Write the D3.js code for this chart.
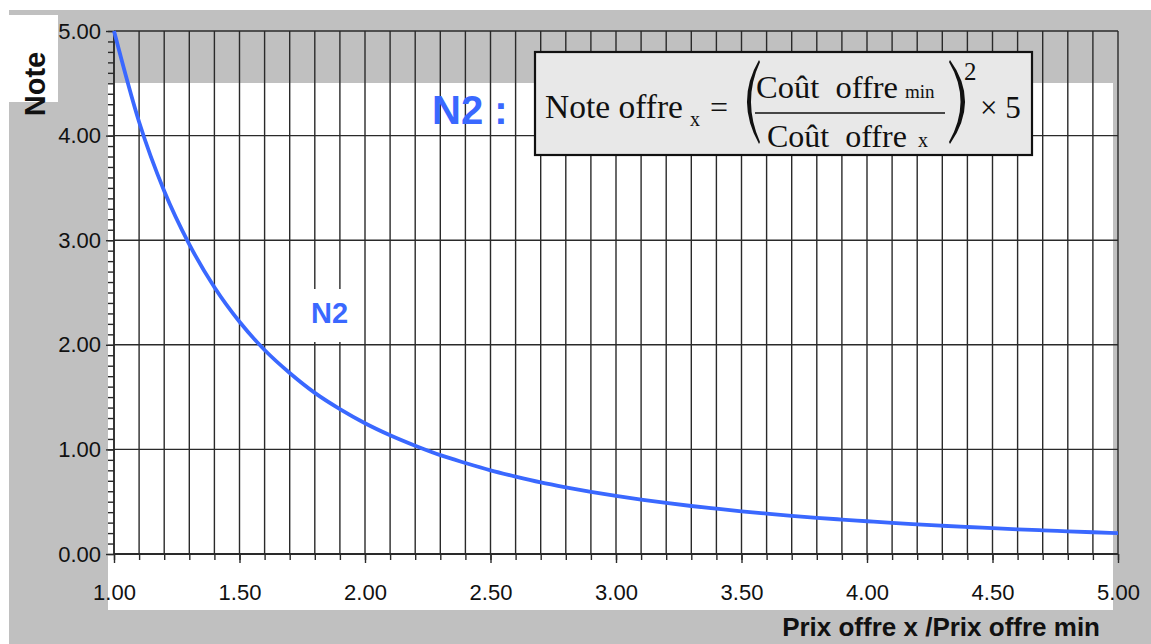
<!DOCTYPE html>
<html lang="fr">
<head>
  <meta charset="UTF-8">
  <title>Note N2</title>
  <script src="https://d3js.org/d3.v7.min.js"></script>
  <style>
    body {
      margin: 0;
      padding: 0;
      background: #fff;
      font-family: "Liberation Sans", Arial, sans-serif;
    }
    .grid line {
      stroke: #2a2a2a;
      stroke-width: 1.4px;
    }
    .tick text {
      font-family: "Liberation Sans", Arial, sans-serif;
      font-size: 22px;
      fill: #111;
    }
    .tick line {
      stroke: #2a2a2a;
      stroke-width: 1.4px;
    }
    .formula text {
      font-family: "Liberation Serif", "Times New Roman", serif;
      fill: #111;
    }
  </style>
</head>
<body>
  <div id="chart"></div>

  <script>
    // valeurs
    const ratios = [1.0, 1.1, 1.2, 1.3, 1.4, 1.5, 1.6, 1.7, 1.8, 1.9,
                    2.0, 2.1, 2.2, 2.3, 2.4, 2.5, 2.6, 2.7, 2.8, 2.9,
                    3.0, 3.1, 3.2, 3.3, 3.4, 3.5, 3.6, 3.7, 3.8, 3.9,
                    4.0, 4.1, 4.2, 4.3, 4.4, 4.5, 4.6, 4.7, 4.8, 4.9, 5.0];
    const notes = [5.00, 4.13, 3.47, 2.96, 2.55, 2.22, 1.95, 1.73, 1.54, 1.385,
                   1.25, 1.135, 1.035, 0.945, 0.87, 0.80, 0.74, 0.685, 0.638, 0.595,
                   0.556, 0.52, 0.488, 0.459, 0.433, 0.408, 0.386, 0.365, 0.346, 0.329,
                   0.313, 0.297, 0.283, 0.270, 0.258, 0.247, 0.236, 0.226, 0.217, 0.208, 0.200];
    const xMajor = [1.0, 1.5, 2.0, 2.5, 3.0, 3.5, 4.0, 4.5, 5.0];
    const yMajor = [0, 1, 2, 3, 4, 5];
    const xMinor = d3.range(10, 51).map(d => d / 10);
    const yMinor = d3.range(0, 51).map(d => d / 10);

    const W = 1151, H = 644;
    const blue = "#3a68ff";

    const svg = d3.select("#chart").append("svg")
      .attr("width", W)
      .attr("height", H);

    const x = d3.scaleLinear().domain([1, 5]).range([114, 1118]);
    const y = d3.scaleLinear().domain([0, 5]).range([554, 31]);

    // fonds
    svg.append("rect").attr("x", 9).attr("y", 10).attr("width", W - 9).attr("height", H - 10).attr("fill", "#c0c0c0");
    svg.append("rect").attr("x", 108).attr("y", 83).attr("width", 1005).attr("height", 527).attr("fill", "#fff");
    svg.append("rect").attr("x", 9).attr("y", 15).attr("width", 49).attr("height", 87).attr("fill", "#fff");

    // grille
    const grid = svg.append("g").attr("class", "grid");
    grid.selectAll(".v").data(xMinor).enter().append("line")
      .attr("x1", d => x(d)).attr("x2", d => x(d))
      .attr("y1", y(5)).attr("y2", y(0));
    grid.selectAll(".h").data(yMajor).enter().append("line")
      .attr("x1", x(1)).attr("x2", x(5))
      .attr("y1", d => y(d)).attr("y2", d => y(d));

    // fond blanc derrière l'étiquette N2
    svg.append("rect").attr("x", 304).attr("y", 289).attr("width", 50).attr("height", 53).attr("fill", "#fff");

    // axes
    svg.append("g")
      .attr("transform", `translate(${x(1)},0)`)
      .call(d3.axisLeft(y).tickValues(yMinor).tickSize(6).tickFormat(""))
      .call(g => g.select(".domain").remove());
    svg.append("g")
      .attr("transform", `translate(${x(1)},0)`)
      .call(d3.axisLeft(y).tickValues(yMajor).tickSize(8).tickPadding(5).tickFormat(d3.format(".2f")))
      .call(g => g.select(".domain").remove());

    svg.append("g")
      .attr("transform", `translate(0,${y(0)})`)
      .call(d3.axisBottom(x).tickValues(xMinor).tickSize(6).tickFormat(""))
      .call(g => g.select(".domain").remove());
    svg.append("g")
      .attr("transform", `translate(0,${y(0)})`)
      .call(d3.axisBottom(x).tickValues(xMajor).tickSize(9).tickPadding(21).tickFormat(d3.format(".2f")))
      .call(g => g.select(".domain").remove());

    svg.append("line")
      .attr("x1", x(1)).attr("x2", x(5))
      .attr("y1", y(0)).attr("y2", y(0))
      .attr("stroke", "#2a2a2a").attr("stroke-width", 2.2);
    svg.append("line")
      .attr("x1", x(1)).attr("x2", x(1))
      .attr("y1", y(5)).attr("y2", y(0))
      .attr("stroke", "#2a2a2a").attr("stroke-width", 1.6);

    // courbe N2
    const line = d3.line()
      .x((d, i) => x(ratios[i]))
      .y(d => y(d))
      .curve(d3.curveMonotoneX);

    svg.append("path")
      .datum(notes)
      .attr("d", line)
      .attr("fill", "none")
      .attr("stroke", blue)
      .attr("stroke-width", 3.8);

    svg.append("text")
      .attr("x", 311).attr("y", 323)
      .attr("font-size", 29).attr("font-weight", "bold")
      .attr("fill", blue)
      .text("N2");

    svg.append("text")
      .attr("x", 432).attr("y", 124)
      .attr("font-size", 40).attr("font-weight", "bold")
      .attr("fill", blue)
      .text("N2 :");

    // titres des axes
    svg.append("text")
      .attr("transform", "translate(45,84) rotate(-90)")
      .attr("text-anchor", "middle")
      .attr("font-size", 29).attr("font-weight", "bold")
      .attr("fill", "#111")
      .text("Note");

    svg.append("text")
      .attr("x", 1100).attr("y", 636)
      .attr("text-anchor", "end")
      .attr("font-size", 26).attr("font-weight", "bold")
      .attr("fill", "#111")
      .text("Prix offre x /Prix offre min");

    // formule
    const f = svg.append("g").attr("class", "formula");
    f.append("rect")
      .attr("x", 535).attr("y", 52).attr("width", 497).attr("height", 103)
      .attr("fill", "#e8e8e8").attr("stroke", "#111").attr("stroke-width", 2.2);
    f.append("text").attr("x", 545).attr("y", 118).attr("font-size", 33.5).text("Note offre");
    f.append("text").attr("x", 690).attr("y", 126).attr("font-size", 20).text("x");
    f.append("text").attr("x", 710).attr("y", 118).attr("font-size", 32).text("=");
    f.append("path")
      .attr("d", "M759,60 Q735,101 759,144 L760,142 Q742,101 760,62 Z")
      .attr("fill", "#111");
    f.append("path")
      .attr("d", "M950,60 Q980,101 950,144 L949,142 Q972,101 949,62 Z")
      .attr("fill", "#111");
    f.append("text").attr("x", 756).attr("y", 98).attr("font-size", 32.5).attr("xml:space", "preserve").text("Coût  offre");
    f.append("text").attr("x", 905).attr("y", 98).attr("font-size", 19).text("min");
    f.append("line")
      .attr("x1", 755).attr("x2", 945).attr("y1", 113).attr("y2", 113)
      .attr("stroke", "#111").attr("stroke-width", 1.6);
    f.append("text").attr("x", 767).attr("y", 147).attr("font-size", 32).attr("xml:space", "preserve").text("Coût  offre");
    f.append("text").attr("x", 918).attr("y", 147).attr("font-size", 20).text("x");
    f.append("text").attr("x", 964).attr("y", 80).attr("font-size", 25).text("2");
    f.append("text").attr("x", 980).attr("y", 118).attr("font-size", 31).text("× 5");
  </script>
</body>
</html>
